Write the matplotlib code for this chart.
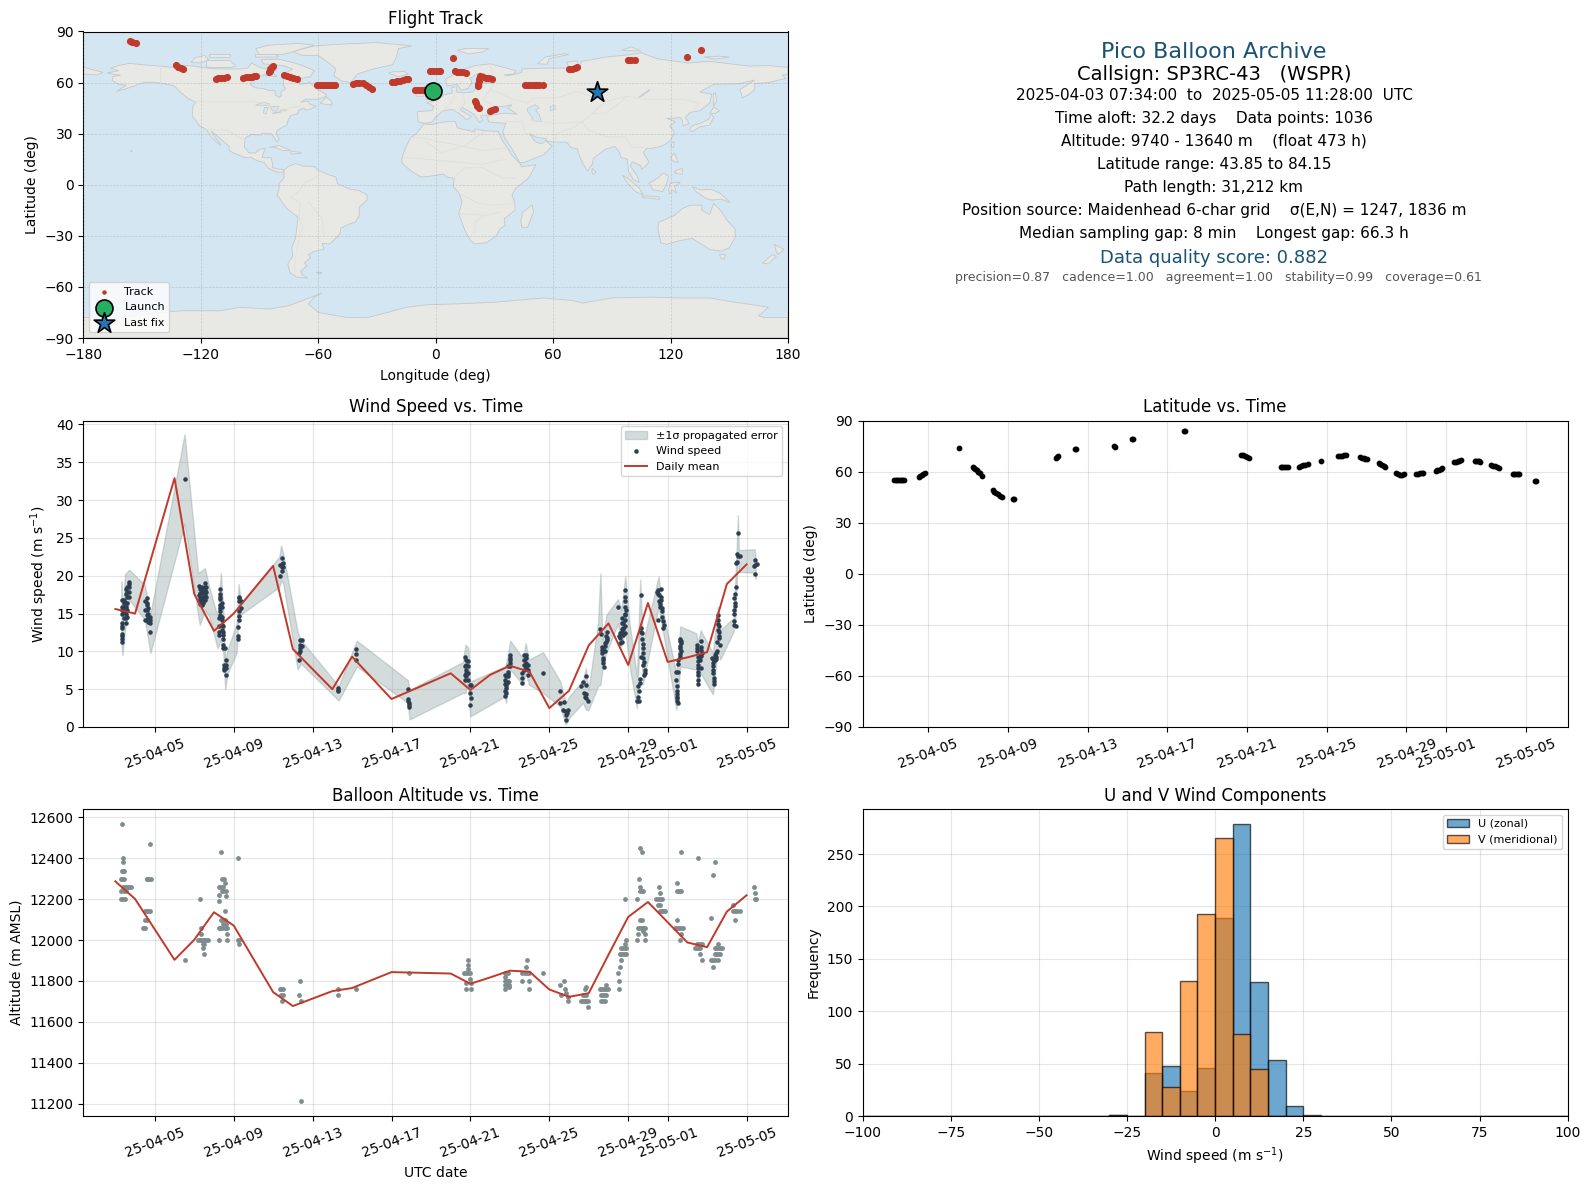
import datetime as dt
import numpy as np
import matplotlib
matplotlib.use('Agg')
import matplotlib.pyplot as plt
import matplotlib.dates as mdates

# all times are "day of April 2025" (31 = May 1)
daily_t = [3, 4, 6, 7, 8, 9, 11, 12, 14, 15, 17, 20, 21, 22, 23, 24, 25, 26, 27, 28, 29, 30, 31, 32, 33, 34, 35]
daily_wind = [15.6, 15.0, 32.9, 17.6, 12.7, 15.0, 21.3, 10.3, 5.0, 9.3, 3.7, 7.1, 4.9, 6.9, 8.1, 7.3, 2.5, 4.8,
              10.8, 13.7, 8.2, 16.4, 8.6, 9.2, 9.9, 18.9, 21.5]
daily_alt = [12287, 12201, 11903, 12001, 12136, 12071, 11745, 11677, 11750, 11765, 11843, 11836, 11786, 11817,
             11850, 11845, 11758, 11722, 11740, 11928, 12113, 12186, 12087, 11988, 11965, 12139, 12219]

wind_t = [3.32, 3.32, 3.32, 3.32, 3.32, 3.32, 3.32, 3.36, 3.36, 3.36, 3.36, 3.44, 3.44, 3.44, 3.44, 3.44,
          3.53, 3.53, 3.53, 3.53, 3.53, 3.53, 3.53, 3.61, 3.61, 3.61, 3.61, 3.61, 3.61, 3.70, 3.70, 3.70, 3.70, 3.70,
          4.49, 4.49, 4.49, 4.58, 4.58, 4.58, 4.58, 4.58, 4.58, 4.66, 4.66, 4.66, 4.66, 4.75, 4.75, 4.75, 4.78,
          6.51,
          7.22, 7.22, 7.22, 7.30, 7.30, 7.30, 7.30, 7.30, 7.39, 7.39, 7.39, 7.39, 7.39, 7.45, 7.45, 7.45, 7.45, 7.45,
          7.54, 7.54, 7.54, 7.54, 7.54, 7.61, 7.61, 7.61,
          8.33, 8.33, 8.33, 8.33, 8.33, 8.33, 8.33, 8.33, 8.40, 8.40, 8.40, 8.40, 8.40, 8.40, 8.27, 8.27, 8.27, 8.27,
          8.47, 8.47, 8.47, 8.47, 8.47, 8.47, 8.54, 8.60, 8.60, 8.60, 8.60, 8.52, 8.52, 8.52,
          9.20, 9.20, 9.20, 9.25, 9.25, 9.25, 9.25, 9.25, 9.25, 9.37, 9.37,
          11.36, 11.36, 11.43, 11.43, 11.43, 11.43, 11.51, 11.51,
          12.29, 12.29, 12.36, 12.36, 12.36, 12.36, 12.45, 12.45,
          14.31, 14.31, 14.31, 15.20, 15.20, 15.20, 17.83, 17.83, 17.83, 17.91, 17.91, 17.91,
          20.71, 20.71, 20.71, 20.71, 20.79, 20.79, 20.79, 20.79, 20.79, 20.89, 20.89, 20.89, 20.89,
          20.99, 20.99, 21.04, 21.04, 20.96,
          22.74, 22.74, 22.74, 22.74, 22.74, 22.82, 22.82, 22.82, 22.82, 22.91, 22.91, 22.91, 22.91,
          22.99, 22.99, 22.99, 22.99,
          23.63, 23.63, 23.63, 23.74, 23.74, 23.74, 23.74, 23.84, 23.84, 23.84, 23.84, 23.94, 23.94, 23.94,
          24.68,
          25.56, 25.56, 25.75, 25.70, 25.78, 25.87, 25.87, 25.97, 25.90,
          26.85, 26.71, 26.63, 26.88, 26.75, 26.80, 26.88, 26.98, 26.85,
          27.56, 27.64, 27.69, 27.69, 27.73, 27.73, 27.76, 27.81, 27.86, 27.90, 27.93, 27.73,
          28.49, 28.54, 28.57, 28.66, 28.66, 28.71, 28.74, 28.74, 28.83, 28.83, 28.86, 28.86, 28.86, 28.86, 28.91,
          29.45, 29.54, 29.51, 29.56, 29.59, 29.66, 29.66, 29.71, 29.73, 29.64, 29.76, 29.76, 29.84, 29.81,
          30.44, 30.52, 30.64, 30.57, 30.64, 30.52, 30.69, 30.69, 30.81, 30.74, 30.61,
          31.42, 31.54, 31.40, 31.45, 31.45, 31.49, 31.54, 31.54, 31.62, 31.70, 31.65, 31.70, 31.62,
          32.47, 32.47, 32.55, 32.55, 32.55, 32.55, 32.69, 32.69, 32.72, 32.64, 32.67,
          33.23, 33.31, 33.31, 33.35, 33.35, 33.45, 33.48, 33.52, 33.57, 33.62, 33.62, 33.65, 33.40,
          34.36, 34.36, 34.41, 34.38, 34.46, 34.46, 34.58, 34.46, 34.53, 34.58, 34.67, 34.50,
          35.43, 35.44, 35.55, 35.44, 35.39]
wind_v = [11.3, 11.6, 12.0, 12.3, 13.1, 13.4, 13.7, 14.9, 15.5, 15.9, 16.8, 15.3, 15.9, 16.4, 16.8, 14.4,
          13.7, 14.4, 15.0, 15.9, 16.4, 17.6, 18.3, 14.6, 15.5, 16.4, 17.2, 17.8, 18.5, 17.2, 17.8, 18.5, 18.9, 19.2,
          14.2, 15.5, 16.6, 14.2, 14.8, 15.5, 16.1, 17.0, 16.4, 13.9, 14.4, 14.9, 15.7, 13.7, 14.2, 14.6, 12.5,
          32.8,
          18.6, 17.5, 16.6, 18.3, 17.7, 17.0, 16.6, 16.3, 18.5, 17.9, 17.2, 16.7, 16.1, 18.1, 17.7, 17.0, 16.6, 16.4,
          19.0, 18.5, 18.1, 17.5, 16.8, 18.5, 17.9, 17.2,
          18.3, 17.6, 17.2, 16.9, 16.1, 15.7, 15.3, 14.8, 16.4, 15.9, 14.6, 14.2, 13.5, 12.8, 14.4, 13.3, 12.6, 12.2,
          13.3, 12.6, 12.2, 11.7, 10.9, 10.4, 10.4, 8.9, 8.2, 7.8, 6.9, 8.2, 7.8, 7.6,
          13.2, 12.0, 11.7, 17.2, 17.0, 16.6, 15.3, 14.7, 14.2, 15.7, 16.6,
          21.4, 20.0, 22.3, 21.6, 21.2, 20.6, 21.7, 21.2,
          8.9, 9.8, 11.5, 10.9, 10.5, 10.1, 11.5, 10.7,
          5.1, 4.9, 4.7, 10.3, 9.6, 8.8, 5.0, 3.7, 3.4, 3.2, 2.9, 2.6,
          9.2, 8.0, 6.9, 6.2, 8.9, 8.2, 7.6, 7.1, 6.7, 8.7, 8.0, 7.1, 6.2,
          5.6, 4.5, 3.8, 5.6, 2.9,
          6.9, 6.2, 5.7, 4.7, 4.1, 6.7, 6.0, 5.1, 4.5, 8.0, 7.3, 6.7, 6.0,
          9.5, 9.1, 8.4, 8.0,
          7.1, 6.5, 5.8, 9.5, 8.9, 8.2, 7.6, 9.5, 9.1, 8.4, 7.8, 8.2, 7.6, 6.9,
          7.2,
          4.7, 3.2, 3.3, 2.3, 2.1, 1.6, 0.9, 2.3, 1.8,
          6.8, 6.0, 5.4, 5.6, 4.5, 4.0, 3.8, 3.5, 4.3,
          13.0, 12.3, 10.6, 9.8, 9.1, 8.4, 7.9, 11.1, 12.0, 12.5, 11.5, 10.4,
          15.9, 12.0, 11.1, 11.3, 14.4, 13.7, 12.2, 13.1, 13.3, 15.0, 15.9, 16.6, 17.2, 18.1, 15.5,
          3.5, 3.4, 5.4, 4.7, 6.3, 17.4, 13.1, 11.7, 10.4, 9.3, 9.1, 8.2, 7.6, 6.9,
          17.9, 18.1, 18.2, 17.5, 16.8, 14.2, 15.3, 14.6, 13.5, 13.1, 15.9,
          7.3, 7.3, 6.2, 4.7, 4.0, 3.5, 3.2, 8.9, 9.3, 10.0, 11.7, 11.1, 10.4,
          10.9, 10.4, 9.3, 8.2, 7.3, 5.7, 11.4, 10.6, 9.8, 8.9, 7.8,
          9.1, 8.4, 7.1, 6.5, 5.7, 9.3, 10.0, 11.3, 14.2, 13.3, 12.5, 10.9, 8.9,
          13.5, 15.5, 16.4, 17.0, 13.3, 18.5, 25.6, 21.7, 21.8, 22.6, 22.6, 22.9,
          22.1, 21.4, 21.6, 20.2, 21.3]
# more readings where the passes form solid streaks
wind_t_dense = [28.66, 28.66, 28.74, 28.74, 28.83, 28.83, 28.60, 28.60, 28.86,
                29.73, 29.73, 29.71, 29.66, 29.51, 29.59, 29.78, 29.84,
                30.52, 30.57, 30.61, 30.64, 30.69, 30.74,
                31.45, 31.45, 31.49, 31.62, 31.65, 31.65, 31.70, 31.54,
                32.55, 32.55, 32.55, 32.55, 32.69, 32.69, 32.64, 32.47,
                33.31, 33.31, 33.31, 33.35, 33.35, 33.45, 33.45, 33.57, 33.57, 33.57, 33.62, 33.62, 33.40,
                34.38, 34.38, 34.41, 34.41,
                22.82, 22.91, 22.99,
                27.81, 27.81, 27.86, 27.90, 27.73, 27.69]
wind_v_dense = [12.5, 13.0, 12.9, 13.7, 14.2, 12.4, 11.8, 12.4, 14.8,
                11.0, 9.8, 12.4, 12.5, 4.0, 5.8, 8.6, 7.2,
                17.6, 16.6, 16.2, 17.2, 15.8, 14.0,
                5.4, 4.3, 3.9, 9.6, 10.7, 11.4, 11.4, 8.3,
                8.7, 7.8, 6.9, 6.2, 10.2, 9.4, 9.4, 10.0,
                7.6, 9.0, 8.0, 8.8, 6.1, 9.0, 9.8, 13.6, 12.8, 14.8, 11.8, 12.0, 9.5,
                14.0, 15.0, 16.0, 17.6,
                5.5, 7.0, 8.8,
                10.7, 10.0, 11.3, 11.8, 8.8, 10.2]

band_t = [3.31, 3.36, 3.49, 3.70, 4.49, 4.78, 6.51, 7.20, 7.28, 7.54, 7.76, 8.18, 8.35, 8.47, 8.57, 8.69, 9.15,
          9.25, 9.37, 11.31, 11.40, 11.51, 12.24, 12.41, 14.32, 15.24, 17.83, 17.91, 20.62, 20.75, 20.89, 20.99,
          22.73, 22.81, 23.02, 23.66, 23.80, 23.97, 24.68, 25.56, 25.83, 26.00, 26.71, 26.85, 26.98, 27.47, 27.59,
          27.69, 27.89, 28.48, 28.65, 28.85, 29.07, 29.44, 29.61, 29.74, 30.54, 30.76, 31.44, 31.64, 32.45, 32.53,
          32.67, 33.29, 33.54, 33.66, 34.34, 34.44, 34.56, 34.61, 35.41, 35.46]
band_hi = [19.2, 15.5, 20.2, 20.8, 18.8, 15.0, 38.7, 20.3, 20.5, 21.0, 18.5, 14.6, 20.4, 15.5, 8.9, 10.2, 13.7,
           18.9, 16.4, 22.5, 24.0, 22.9, 12.6, 11.5, 5.4, 11.4, 6.2, 4.9, 8.6, 10.9, 10.5, 6.0,
           8.0, 8.4, 11.4, 9.1, 11.1, 8.9, 9.9, 6.0, 3.2, 4.0, 6.2, 7.8, 4.9, 13.7, 20.3,
           11.5, 14.8, 16.9, 15.5, 19.9, 13.7, 6.7, 19.5, 11.1, 19.9, 15.3, 7.1, 13.3, 12.4, 11.1,
           12.8, 9.8, 15.9, 12.8, 14.4, 19.9, 28.0, 23.4, 23.5, 22.3]
band_lo = [11.1, 9.5, 12.8, 16.8, 14.2, 9.8, 26.9, 14.8, 13.5, 15.5, 14.6, 10.4, 11.5, 9.8, 5.0, 7.1, 9.8,
           15.0, 14.9, 18.5, 19.4, 19.0, 7.6, 8.4, 3.5, 8.0, 3.2, 1.0, 4.5, 4.5, 6.2, 1.4,
           4.0, 3.2, 7.6, 5.6, 7.1, 5.6, 4.5, 2.7, 0.3, 1.2, 3.2, 2.3, 2.2, 5.4, 5.6,
           7.6, 9.8, 13.7, 10.6, 12.8, 8.0, 2.5, 13.7, 5.6, 15.9, 12.6, 2.3, 8.0, 7.6, 5.4,
           7.1, 4.3, 10.2, 8.9, 12.6, 14.6, 23.2, 20.5, 20.4, 19.6]

alt_t = [3.36, 3.38, 3.40, 3.36, 3.40, 3.44, 3.30, 3.36, 3.44, 3.40, 3.48, 3.55, 3.62, 3.70, 3.78, 3.30, 3.44, 3.53, 3.27, 3.40, 3.48,
         4.78, 4.58, 4.63, 4.71, 4.80, 4.51, 4.58, 4.66, 4.75, 4.51, 4.60, 4.42, 4.51,
         6.51,
         7.27, 7.34, 7.34, 7.17, 7.27, 7.34, 7.42, 7.50, 7.59, 7.72, 7.42, 7.50, 7.45, 7.47,
         8.38, 8.40, 8.52, 8.54, 8.27, 8.35, 8.47, 8.40, 8.47, 8.60, 8.23, 8.60, 8.23, 8.54, 8.35, 8.47, 8.54, 8.47, 8.60,
         8.23, 8.33, 8.43, 8.54, 8.64, 8.64, 8.23, 8.64,
         9.20, 9.20, 9.28, 9.28,
         11.33, 11.40, 11.51, 11.40, 11.51, 11.45,
         12.34, 12.33, 12.39, 12.39,
         14.31, 14.31, 15.20, 17.88,
         20.87, 20.87, 20.87, 20.70, 20.79, 20.87, 20.96, 20.96, 20.79, 21.04, 20.79, 21.04,
         22.73, 22.81, 22.90, 22.73, 22.73, 22.81, 22.90, 22.98, 22.73, 22.81, 22.90, 22.98, 22.73, 22.98,
         23.87, 23.80, 23.63, 23.75, 23.87, 23.97, 23.63, 23.97, 23.97,
         24.68,
         25.75, 25.56, 25.78, 25.87, 25.60, 25.95, 25.95,
         26.88, 26.79, 26.71, 26.79, 26.88, 26.62, 26.71, 26.79, 26.88, 26.96, 26.96,
         27.89, 27.56, 27.64, 27.72, 27.81, 27.89, 27.97, 27.64, 27.72, 27.81, 27.89, 27.64, 27.72, 27.81,
         28.82, 28.54, 28.54, 28.50, 28.57, 28.65, 28.57, 28.65, 28.74, 28.82, 28.91, 28.65, 28.74, 28.82, 28.91, 28.82, 28.87,
         29.62, 29.69, 29.55, 29.62, 29.62, 29.69, 29.76, 29.45, 29.62, 29.69, 29.51, 29.62, 29.69, 29.76, 29.84, 29.76, 29.84, 29.51, 29.45, 29.84,
         30.57, 30.60, 30.43, 30.52, 30.60, 30.69, 30.52, 30.60, 30.60, 30.69, 30.77, 30.86,
         31.48, 31.48, 31.58, 31.70, 31.48, 31.36, 31.48, 31.58, 31.70, 31.79, 31.70, 31.65,
         31.70, 32.55, 32.47, 32.55, 32.63, 32.72, 32.41, 32.47, 32.55, 32.63, 32.63, 32.72,
         33.41, 33.31, 33.22, 33.56, 33.40, 33.47, 33.56, 33.64, 33.73, 33.47, 33.40, 33.56, 33.64, 33.22, 33.31, 33.40, 33.56, 33.31,
         34.32, 34.32, 34.42, 34.52, 34.66, 34.42,
         35.39, 35.44, 35.48, 35.44]
alt_m = [12570, 12400, 12380, 12340, 12340, 12340, 12300, 12300, 12300, 12260, 12260, 12260, 12260, 12260, 12260, 12240, 12240, 12240, 12200, 12200, 12200,
         12470, 12300, 12300, 12300, 12300, 12140, 12140, 12140, 12140, 12100, 12100, 12060, 12060,
         11900,
         12200, 12060, 12030, 12000, 12000, 12000, 12000, 12000, 12000, 12000, 11980, 11980, 11960, 11930,
         12430, 12300, 12300, 12280, 12260, 12260, 12260, 12240, 12240, 12240, 12220, 12215, 12190, 12140, 12100, 12100, 12100, 12080, 12080,
         12060, 12060, 12060, 12060, 12060, 12030, 12000, 12000,
         12400, 12000, 12000, 11980,
         11760, 11760, 11760, 11730, 11730, 11700,
         11800, 11730, 11700, 11210,
         11760, 11730, 11760, 11840,
         11900, 11880, 11860, 11840, 11840, 11840, 11840, 11810, 11790, 11790, 11760, 11760,
         11840, 11840, 11840, 11820, 11800, 11800, 11800, 11800, 11780, 11780, 11780, 11780, 11760, 11770,
         11900, 11870, 11840, 11840, 11840, 11840, 11800, 11800, 11760,
         11840,
         11800, 11780, 11760, 11740, 11730, 11720, 11700,
         11770, 11760, 11730, 11730, 11730, 11700, 11700, 11700, 11700, 11700, 11670,
         11780, 11760, 11760, 11760, 11760, 11760, 11760, 11730, 11730, 11730, 11730, 11700, 11700, 11700,
         12200, 11760, 11800, 11840, 11870, 11900, 11930, 11930, 11930, 11930, 11930, 11960, 11960, 11960, 11960, 11980, 12000,
         12450, 12430, 12300, 12260, 12240, 12240, 12240, 12200, 12100, 12100, 12060, 12060, 12060, 12060, 12060, 12045, 12030, 12030, 12000, 12000,
         12260, 12230, 12200, 12200, 12200, 12200, 12170, 12170, 12140, 12140, 12140, 12140,
         12280, 12240, 12240, 12240, 12100, 12060, 12060, 12060, 12060, 12060, 12030, 12000,
         12430, 12400, 11980, 11980, 11980, 11980, 11960, 11960, 11960, 11960, 11930, 11900,
         12380, 12320, 12110, 11980, 11960, 11960, 11960, 11960, 11960, 11930, 11930, 11930, 11930, 11900, 11900, 11900, 11900, 11870,
         12170, 12140, 12140, 12140, 12140, 12100,
         12260, 12230, 12200, 12200]

lat_t = [3.30, 3.38, 3.46, 3.54, 3.62, 3.70, 3.81, 4.53, 4.60, 4.68, 4.76, 4.84, 6.57,
         7.24, 7.30, 7.36, 7.43, 7.50, 7.58, 7.69, 8.25, 8.33, 8.41, 8.50, 8.60, 8.70, 9.28, 9.32,
         11.43, 11.48, 11.54, 12.37, 12.41, 14.33, 14.36, 15.22, 15.26, 17.86, 17.90,
         20.72, 20.80, 20.90, 21.00, 21.10, 22.69, 22.78, 22.88, 22.97, 23.07, 23.63, 23.73, 23.83, 23.93, 24.04,
         24.69, 25.54, 25.65, 25.77, 25.88, 25.99, 26.66, 26.75, 26.85, 26.93, 27.00,
         27.60, 27.68, 27.76, 27.85, 27.93, 28.49, 28.60, 28.70, 28.80, 28.90, 29.46, 29.56, 29.66, 29.76, 29.84,
         30.46, 30.55, 30.63, 30.72, 30.80, 31.41, 31.50, 31.58, 31.66, 31.74, 32.43, 32.50, 32.57, 32.64, 32.70,
         33.26, 33.36, 33.46, 33.55, 33.64, 34.34, 34.42, 34.50, 34.58, 34.65, 35.44, 35.48]
lat_v = [55.0, 55.0, 55.2, 55.3, 55.3, 55.4, 55.4, 56.9, 57.6, 58.2, 58.9, 59.5, 73.8,
         63.0, 62.4, 61.6, 60.8, 59.9, 59.0, 57.7, 49.0, 48.2, 47.5, 46.8, 46.0, 45.2, 44.1, 43.9,
         68.0, 68.8, 69.5, 73.4, 73.2, 75.0, 74.6, 79.2, 79.0, 84.1, 83.9,
         70.1, 69.6, 69.0, 68.5, 68.0, 63.0, 63.0, 63.0, 63.0, 63.0, 63.0, 63.3, 63.7, 64.0, 64.3,
         66.4, 69.4, 69.5, 69.5, 69.6, 69.7, 68.6, 68.3, 68.0, 67.7, 67.4,
         65.0, 64.4, 63.9, 63.3, 62.7, 59.0, 58.6, 58.3, 58.2, 58.4, 58.8, 58.9, 59.0, 59.2, 59.4,
         60.4, 60.9, 61.3, 61.8, 62.3, 65.6, 65.9, 66.3, 66.6, 67.0, 66.6, 66.5, 66.4, 66.2, 66.0,
         64.0, 63.6, 63.2, 62.8, 62.3, 58.6, 58.6, 58.6, 58.6, 58.6, 54.7, 54.3]

track_lon = [-156.2, -155.0, -153.3, -132.8, -131.5, -130.2, -129.2,
             -112.2, -111.0, -109.5, -108.0, -106.8, -98.6, -97.0, -95.5, -94.0, -92.8, -91.8,
             -85.0, -84.8, -84.5, -84.0, -83.5, -83.0, -77.5, -76.0, -74.5, -73.0, -71.0,
             -60.5, -59.0, -57.5, -56.0, -54.5, -53.0, -51.5, -42.1, -40.5, -39.0, -37.0, -35.5, -34.0, -32.7,
             -22.5, -21.0, -19.5, -18.0, -16.5, -15.0, -14.0, -10.6, -9.0, -7.5, -6.0, -4.7,
             -3.0, -1.5, 0.0, 1.0, 2.1, 8.9, 9.8, 11.0, 12.5, 14.0, 15.4,
             21.4, 21.6, 21.9, 22.2, 22.6, 24.0, 25.5, 27.0, 29.0, 20.0, 20.6, 21.2, 22.0, 27.7, 29.0, 30.2,
             45.5, 47.0, 48.5, 50.0, 51.5, 53.0, 54.6, 68.2, 69.5, 71.0, 72.3, 98.3, 100.0, 101.7, 128.4, 135.7]
track_lat = [84.2, 83.8, 83.4, 70.1, 69.4, 68.8, 68.2,
             62.3, 62.5, 62.7, 62.9, 63.1, 62.9, 63.1, 63.3, 63.5, 63.7, 63.9,
             66.0, 67.0, 68.0, 68.7, 69.4, 70.0, 64.6, 64.0, 63.4, 62.8, 62.1,
             58.4, 58.4, 58.4, 58.4, 58.4, 58.4, 58.4, 59.2, 59.5, 59.8, 59.6, 58.6, 57.5, 56.4,
             60.1, 60.5, 60.9, 61.2, 61.5, 61.9, 62.1, 55.4, 55.4, 55.4, 55.4, 55.4,
             66.6, 66.6, 66.6, 66.6, 66.6, 74.4, 66.6, 66.5, 66.3, 66.0, 65.8,
             57.8, 59.3, 60.8, 62.3, 63.7, 63.1, 62.9, 62.7, 62.3, 49.0, 47.8, 46.5, 45.1, 43.5, 44.0, 44.5,
             58.4, 58.4, 58.4, 58.4, 58.4, 58.4, 58.4, 67.8, 68.2, 68.6, 69.0, 73.1, 73.1, 73.1, 74.8, 79.1]
launch_lonlat = (-1.6, 54.9)
last_lonlat = (82.5, 54.5)

hist_edges = list(range(-100, 105, 5))
u_counts = [0] * 14 + [1, 0, 41, 48, 24, 46, 189, 279, 128, 53, 10, 1] + [0] * 14
v_counts = [0] * 14 + [1, 0, 80, 28, 129, 193, 265, 78, 45, 0, 0, 0] + [0] * 14

info_lines = ["Pico Balloon Archive",
              "Callsign: SP3RC-43   (WSPR)",
              "2025-04-03 07:34:00  to  2025-05-05 11:28:00  UTC",
              "Time aloft: 32.2 days    Data points: 1036",
              "Altitude: 9740 - 13640 m    (float 473 h)",
              "Latitude range: 43.85 to 84.15",
              "Path length: 31,212 km",
              "Position source: Maidenhead 6-char grid    \u03c3(E,N) = 1247, 1836 m",
              "Median sampling gap: 8 min    Longest gap: 66.3 h",
              "Data quality score: 0.882",
              "precision=0.87   cadence=1.00   agreement=1.00   stability=0.99   coverage=0.61"]

# rough coastlines, lon/lat
north_america = [(-168, 65.6), (-164, 66.5), (-162, 67), (-166, 68.4), (-162, 70), (-156.5, 71.3), (-150, 70.5), (-141, 69.7),
                 (-135, 69), (-128, 70), (-124, 69.8), (-115, 68.2), (-108, 68), (-100, 68), (-96, 68.5), (-94, 71.5), (-90, 69),
                 (-87, 68), (-85, 69.5), (-82, 69), (-81.5, 67), (-87, 65), (-90, 63.5), (-94, 61), (-94.5, 58.8), (-92.5, 57),
                 (-88, 56.5), (-85, 55.3), (-82, 55.2), (-82, 52.8), (-80, 51.3), (-79, 52), (-79, 54.5), (-76.7, 56.5), (-78, 58.7),
                 (-77.5, 62.4), (-73, 62), (-70, 61), (-69.5, 59), (-65.5, 59.5), (-64.5, 60.3), (-61, 56.5), (-56, 53), (-55.8, 52),
                 (-60, 50.2), (-66.5, 50.2), (-69, 48.5), (-65, 49), (-64.5, 47.5), (-61, 46), (-64, 44.5), (-66.5, 43.8), (-67, 45),
                 (-70, 43.7), (-70.5, 41.7), (-74, 40.6), (-75.5, 37.5), (-76, 35), (-78, 33.9), (-81, 32), (-81.3, 30), (-80, 26.8),
                 (-81, 25.2), (-82.7, 28), (-84, 30), (-88, 30.3), (-90, 29.2), (-94, 29.6), (-97.3, 27.5), (-97.7, 22.5), (-95.5, 18.8),
                 (-92, 18.6), (-90.5, 20.5), (-87, 21.5), (-88, 18.5), (-88.8, 16), (-84, 15.8), (-83.3, 12), (-83.5, 10), (-80, 9.2),
                 (-77.5, 8.7), (-78, 7.3), (-80.5, 7.3), (-83, 8.3), (-85.7, 10), (-87.5, 13), (-91, 14), (-94.5, 16.2), (-97, 15.8),
                 (-102, 18), (-105.5, 20), (-105.5, 22.5), (-109, 26), (-112.5, 29.5), (-114.7, 31.5), (-112.5, 27.5), (-109.5, 23),
                 (-112, 25), (-115, 28.5), (-117, 32.5), (-120.5, 34.5), (-122.5, 37.5), (-124.3, 40.3), (-124, 46), (-122.7, 48.5),
                 (-127, 51), (-130.5, 54.5), (-133.5, 58), (-138, 59.2), (-144, 60.2), (-148.5, 60.2), (-152, 59), (-154, 58),
                 (-158, 56.5), (-163, 54.8), (-158, 58.5), (-162, 59), (-165, 61), (-165, 63.5), (-161, 64.3)]
south_america = [(-77.5, 8.7), (-75, 11), (-71.5, 12.4), (-68, 11), (-62, 10.7), (-60, 8.5), (-55, 6), (-51, 4.5), (-50, 0.5), (-44, -2.5),
                 (-39, -3.5), (-35, -6), (-35, -9), (-39, -13), (-39, -18), (-41, -22), (-44.5, -23.2), (-48.5, -25.5), (-48.7, -28.5),
                 (-52, -32.5), (-54, -34.8), (-58, -34.5), (-57, -38), (-62, -39), (-65, -41), (-63.8, -42.5), (-67, -46), (-65.8, -47.5),
                 (-69, -51), (-68.3, -52.7), (-65.5, -54.8), (-71, -54.3), (-74.5, -51.5), (-75.5, -46.5), (-73, -42), (-73.5, -37),
                 (-71.5, -31), (-70.3, -19), (-76, -14), (-81, -6), (-80, -2.5), (-80, 0.8), (-77.5, 4), (-77.5, 7)]
africa = [(-6, 35.8), (-2, 35.2), (3, 36.8), (10, 37.2), (11, 33.5), (15, 32.3), (20, 31), (20, 32.8), (25, 31.7), (32, 31.2), (32.5, 30),
          (34, 26), (37, 21), (38.5, 18), (43, 12.5), (44, 10.5), (51.2, 11.8), (47.5, 4), (41, -2), (39, -6), (40.5, -11), (40.5, -15),
          (35, -20), (35.5, -24), (32.8, -26), (31, -30), (26, -34), (20, -34.8), (18, -33), (15, -27), (11.8, -17), (13.5, -10), (12, -5),
          (9, -1), (9.5, 3.8), (5.5, 4.5), (4, 6.3), (-3, 5), (-7.5, 4.5), (-13, 8.5), (-17, 12.5), (-17.3, 15), (-16, 20), (-13, 27.5), (-9.8, 30)]
eurasia = [(-5.5, 36), (-9, 37), (-9.3, 43), (-1.8, 43.5), (-1, 46), (-4.7, 48.3), (-1.5, 48.8), (2, 51), (4.5, 53), (8.5, 53.8), (8.2, 57),
           (10.7, 57.6), (10.5, 54.5), (14, 54), (19, 54.5), (21, 57), (24, 58), (23.5, 59.5), (30, 60), (23, 60), (21.5, 63), (25, 65.5),
           (22, 65.5), (17.5, 62.5), (18.5, 60), (16.5, 56.5), (13, 55.5), (11, 59), (6, 58), (5, 62), (13, 67), (20, 70), (28, 71), (41, 67),
           (40, 65), (35, 64.5), (37, 64), (44, 66), (44, 68), (54, 68.5), (68, 68.5), (67, 72), (72.5, 72.7), (73, 68), (74.5, 72.5), (80, 73.5),
           (87, 75), (100, 76.5), (105, 77.5), (113, 74), (129, 71.5), (140, 72.5), (160, 69.7), (170, 70), (180, 69), (180, 65), (177, 64.5),
           (179, 62.5), (170, 60), (163, 59.5), (163, 56), (160, 53), (156.7, 51), (155.5, 56), (163, 61.5), (155, 59.3), (142, 59), (135, 54.5),
           (141, 53), (140, 48), (135, 43.5), (130, 42.5), (127.5, 39.5), (129.5, 36), (126.5, 34.5), (126, 37.5), (125, 39.5), (121, 39), (118, 39),
           (122.5, 37), (119.5, 34.5), (122, 31), (120, 26), (116, 22.8), (110, 21.3), (108, 21.5), (106, 19), (109, 13.5), (107, 10.5), (105, 9),
           (105, 11), (100.5, 13.5), (99.5, 11), (103, 5), (104, 1.5), (101, 3), (98.5, 8), (98, 15), (94.5, 16), (94, 19), (91.5, 22.5), (87, 21),
           (80.5, 15.5), (80, 12), (77.5, 8), (74.5, 14), (72.8, 19), (72.5, 21), (69, 22), (67, 25), (61.5, 25), (57, 25.5), (56.5, 27), (51, 28),
           (48, 30), (50, 26.5), (51.5, 25), (54, 24), (56.3, 26), (59.5, 22.5), (55, 17.5), (45, 13), (43, 13), (39, 21), (35, 28), (34.3, 31.2),
           (35.8, 36), (30.5, 36.5), (27, 37), (26.5, 40), (29, 41), (35, 42), (41.5, 41.5), (37, 45), (39, 47), (35, 46), (33, 46), (30.5, 46),
           (28, 42), (26, 40.8), (23, 40.5), (24, 38), (22.5, 36.5), (19.5, 41.5), (13.5, 45.5), (12.5, 44), (18.3, 40), (16, 38), (12.5, 41.5),
           (8.5, 44.3), (3.5, 43.3), (0, 39.5), (-2, 36.8)]
australia = [(114, -22), (122, -18), (126, -14), (130, -12), (136, -12), (136, -15), (140, -17.5), (142, -11), (145.5, -15), (149, -21),
             (153, -26), (153, -31), (150, -37), (146, -39), (140, -38), (136, -35), (131, -31.5), (124, -33), (118, -35), (115, -34), (113.5, -26)]
antarctica = [(-180, -78), (-160, -78), (-150, -76), (-130, -74), (-110, -74), (-100, -72), (-85, -73), (-75, -71), (-68, -68), (-58, -63.5),
              (-62, -66), (-65, -70), (-60, -75), (-45, -78), (-35, -78), (-28, -76), (-15, -72), (-5, -70.5), (10, -70), (30, -69), (40, -68),
              (55, -66.5), (70, -68), (75, -69.5), (90, -66.5), (110, -66), (125, -66.5), (140, -66.5), (150, -68.5), (165, -71), (170, -72),
              (165, -77), (168, -78), (180, -78), (180, -90), (-180, -90)]
greenland = [(-73, 78.3), (-68, 76), (-60, 76), (-54, 71), (-51, 68), (-52, 64), (-48, 61), (-43.5, 60), (-40, 65), (-32, 68), (-22, 70.5),
             (-20, 75), (-19, 80), (-12, 81.5), (-30, 83.5), (-50, 82.5), (-62, 81.5)]
islands = [[(-80, 73.7), (-72, 71.5), (-68, 70), (-62, 67), (-64, 63.5), (-68, 62.5), (-73, 64.5), (-78, 65), (-73, 68), (-78, 70), (-88, 71), (-89, 73.5)],
           [(-117, 69), (-105, 68.8), (-102, 69.8), (-105, 73), (-117, 73)],
           [(-125, 72), (-120, 71.5), (-116, 73.5), (-118, 76), (-123, 74.5)],
           [(-90, 76.5), (-78, 76.5), (-72, 78.5), (-62, 82), (-70, 83), (-85, 82), (-92, 80)],
           [(-92, 75), (-80, 75), (-82, 76.5), (-92, 76.5)],
           [(-116, 75), (-105, 75), (-105, 76.5), (-116, 76.5)],
           [(-59, 47.7), (-53, 46.8), (-53, 49), (-56, 51.5)],
           [(-87, 64), (-81, 63.5), (-83, 65.5)],
           [(-180, 69), (-170, 66), (-173, 64.5), (-180, 65)],
           [(-5, 50), (1, 51), (0, 53.5), (-2, 56), (-3, 58.5), (-6, 57.5), (-3, 54), (-5, 52)],
           [(-10, 52), (-6, 52), (-6, 55), (-10, 54)],
           [(-24, 65.5), (-19, 63.5), (-14, 65), (-16, 66.5), (-22, 66.3)],
           [(11, 79), (17, 76.8), (24, 78), (27, 80), (15, 80)],
           [(52, 71), (57, 70.8), (58, 74), (68, 76.5), (66, 77), (56, 75)],
           [(95, 79), (105, 78.5), (100, 81)],
           [(137, 75), (145, 75.5), (150, 75), (143, 73.8)],
           [(142, 46), (143.5, 49), (143, 54), (142, 53.5), (142, 48)],
           [(130, 31.5), (131.5, 31.5), (135, 34), (140, 35), (142, 39.5), (141, 41.5), (139.5, 38.5), (136, 36.5), (132, 35), (130, 33.5)],
           [(140, 42), (143, 42), (145, 43.5), (142, 45.5)],
           [(120, 22), (121.5, 22), (122, 25), (121, 25)],
           [(120, 16), (122, 18.5), (124, 13), (121, 14)],
           [(122, 7), (126, 6), (126, 9.5), (123, 8.5)],
           [(109, 1), (111, -3), (116, -4), (118, 1), (119, 5), (116.5, 7), (113, 3.5)],
           [(95.5, 5.5), (98, 4), (104, -2), (106, -6), (102, -4), (98, 1)],
           [(105.5, -6.5), (114, -7), (114.5, -8.5), (106, -7.5)],
           [(119.5, -5.5), (121, -3), (123, -5), (122, -1), (125, 1.5), (120, 1), (119, -3)],
           [(131, -1), (135, -3), (141, -2.7), (146, -5.5), (150.5, -10.5), (146, -8.5), (141, -9), (138, -8), (133, -4)],
           [(80, 9.5), (82, 7.5), (80.5, 6), (79.8, 7.5)],
           [(49.3, -12), (50, -16), (47, -25), (44, -25), (43.5, -21), (44.5, -16)],
           [(-85, 22), (-80, 23), (-74, 20.2), (-78, 20), (-82, 22)],
           [(-74, 19.8), (-69, 19), (-68.5, 18.5), (-74, 18)],
           [(145, -41), (148, -41), (147.5, -43.5), (146, -43.5)],
           [(173, -35), (178, -38), (175, -41), (174, -39)],
           [(172, -41), (174, -42), (170, -46.5), (167, -46)],
           [(-61, -51.5), (-58, -51.5), (-59, -52.3)],
           [(-156, 20), (-155, 19.3), (-155.5, 20.2)]]
lakes = [[(47, 45), (51, 47), (53, 45), (51, 44), (53, 41), (54, 37), (50, 37.5), (49, 40), (47, 43)],
         [(58.5, 46), (61, 46.5), (61, 44), (58.5, 43.5)],
         [(-92, 46.7), (-88, 48.5), (-85, 47.5), (-85, 46.6), (-88, 46.7)],
         [(-88, 42), (-86.5, 41.8), (-85.5, 45.5), (-87.5, 45.5)],
         [(-84.5, 46), (-80, 45.8), (-81.5, 43.2), (-83.5, 43.5)],
         [(-83.3, 41.6), (-79, 42.7), (-79, 43), (-83, 42.2)],
         [(-79.5, 43.3), (-76.3, 43.5), (-76.3, 44.2), (-79.5, 43.8)],
         [(103.7, 51.5), (105, 51.8), (109.5, 55.5), (109, 55.7)]]
borders = [[(-141, 60), (-141, 69.7)], [(-123, 49), (-95, 49), (-88, 48), (-83, 45), (-79, 43), (-75, 45), (-70, 46), (-67, 45)],
           [(-117, 32.5), (-106, 31.7), (-97.3, 26)], [(-70, -18), (-69, -11), (-74, -7), (-70, -4), (-67, 1), (-60, 5)],
           [(-57, -30), (-58, -20), (-65, -10)], [(-70, -18), (-68, -25), (-70, -33), (-72, -45), (-72, -52)],
           [(-13, 27.7), (-8, 27.7), (12, 23), (25, 20), (37, 22)], [(-5, 25), (3, 19), (15, 23), (25, 31.5)], [(-16, 16), (15, 13), (24, 12), (36, 15)],
           [(9, 4), (15, 10), (24, 10), (34, 4), (41, 4)], [(12, -5), (22, -11), (30, -12), (40, -11)], [(12, -17), (25, -18), (33, -16)],
           [(20, -29), (20, -22), (25, -18)], [(28, 56), (40, 50), (47, 48), (50, 51), (62, 51), (72, 55), (87, 49), (98, 52), (107, 50), (118, 50), (127, 50), (135, 48), (131, 43)],
           [(48, 38), (62, 36), (75, 37), (80, 42), (87, 49)], [(75, 37), (78, 32), (88, 28), (97, 28), (100, 22), (106, 22)],
           [(35, 37), (44, 37), (46, 30), (48, 30)], [(61, 25), (62, 30), (71, 34), (75, 37)], [(28, 70), (30, 60), (28, 56), (24, 50), (30, 46)],
           [(3, 43), (8, 48), (10, 54)], [(14, 54), (15, 48), (13.5, 45.5)], [(98, 52), (87, 42), (80, 42)]]

RED = '#c0392b'
NAVY = '#2c3e50'
GREY = '#7f8c8d'
W, H = 1589, 1189


def make_axes(x0, y0, x1, y1):
    return fig.add_axes([x0 / W, 1 - y1 / H, (x1 - x0) / W, (y1 - y0) / H])


def to_dates(days):
    # day of April -> matplotlib date number
    return mdates.date2num(dt.datetime(2025, 4, 1)) + np.asarray(days, dtype=float) - 1


def date_axis(ax, left, right):
    ax.set_xlim(to_dates(left), to_dates(right))
    ax.xaxis.set_major_locator(mdates.DayLocator(bymonthday=[1, 5, 9, 13, 17, 21, 25, 29]))
    ax.xaxis.set_major_formatter(mdates.DateFormatter('%y-%m-%d'))
    ax.tick_params(axis='x', labelrotation=20)
    ax.grid(True, color='gray', alpha=0.2)
    ax.set_axisbelow(True)


fig = plt.figure(figsize=(W / 100, H / 100), dpi=100)

# flight track map
ax_map = make_axes(83.3, 31.5, 788, 338)
ax_map.set_facecolor('#d4e6f1')
shapes = [north_america, south_america, africa, eurasia, australia, antarctica, greenland] + islands
for shape in shapes:
    xs, ys = zip(*shape)
    ax_map.fill(xs, ys, facecolor='#e8e8e4', edgecolor='#c3c9cb', linewidth=0.6, zorder=1)
for shape in lakes:
    xs, ys = zip(*shape)
    ax_map.fill(xs, ys, facecolor='#d4e6f1', edgecolor='#c3c9cb', linewidth=0.5, zorder=1.1)
for line in borders:
    xs, ys = zip(*line)
    ax_map.plot(xs, ys, color='#dfe0dc', linewidth=0.6, zorder=1.2)
ax_map.scatter(track_lon, track_lat, s=17, color=RED, zorder=3)
ax_map.scatter(track_lon, track_lat, s=5, color=RED, label='Track', zorder=3)
ax_map.scatter(*launch_lonlat, s=150, color='#27ae60', edgecolor='black', linewidth=1.2, label='Launch', zorder=4)
ax_map.scatter(*last_lonlat, s=240, marker='*', color='#1f77b4', edgecolor='black', linewidth=1.2, label='Last fix', zorder=4)
ax_map.set_xlim(-180, 180)
ax_map.set_ylim(-90, 90)
ax_map.set_xticks(np.arange(-180, 181, 60))
ax_map.set_yticks(np.arange(-90, 91, 30))
ax_map.grid(True, color='gray', alpha=0.3, linestyle='--', linewidth=0.5, zorder=2)
ax_map.set_axisbelow(False)
ax_map.set_title('Flight Track', fontsize=12, pad=5.3)
ax_map.set_xlabel('Longitude (deg)', labelpad=5.5)
ax_map.set_ylabel('Latitude (deg)')
ax_map.legend(loc='lower left', fontsize=8)

# summary text
ax_txt = make_axes(862.5, 31.5, 1567.7, 338)
ax_txt.axis('off')
text_x = [1214, 1214, 1214, 1214, 1214, 1214, 1214, 1214, 1214, 1214, 1218]
text_y = [51.8, 74.6, 95.3, 118.8, 141.2, 164.5, 187.6, 210.2, 233.2, 257.8, 278]
text_size = [16, 14, 11, 11, 11, 11, 11, 11, 11, 13, 9]
text_color = ['#1a5276', 'black', 'black', 'black', 'black', 'black', 'black', 'black', 'black', '#1a5276', '#555555']
for line, x, y, size, col in zip(info_lines, text_x, text_y, text_size, text_color):
    fig.text(x / W, 1 - y / H, line, ha='center', va='center', fontsize=size, color=col)

# wind speed
ax_wind = make_axes(83.3, 420.7, 788, 727)
ax_wind.fill_between(to_dates(band_t), band_lo, band_hi, color='#95a5a6', alpha=0.4, label='\u00b11\u03c3 propagated error')
ax_wind.scatter(to_dates(wind_t + wind_t_dense), wind_v + wind_v_dense, s=5, color=NAVY, label='Wind speed', zorder=3)
ax_wind.plot(to_dates(daily_t), daily_wind, color=RED, linewidth=1.4, label='Daily mean', zorder=4)
date_axis(ax_wind, 1.376, 37.10)
ax_wind.set_ylim(0, 40.5)
ax_wind.set_title('Wind Speed vs. Time', fontsize=12)
ax_wind.set_ylabel('Wind speed (m s$^{-1}$)')
ax_wind.legend(loc='upper right', fontsize=8)

# latitude
ax_lat = make_axes(862.5, 420.7, 1567.7, 727)
ax_lat.scatter(to_dates(lat_t), lat_v, s=10, color='black')
date_axis(ax_lat, 1.707, 37.09)
ax_lat.set_ylim(-90, 90)
ax_lat.set_yticks(np.arange(-90, 91, 30))
ax_lat.set_title('Latitude vs. Time', fontsize=12)
ax_lat.set_ylabel('Latitude (deg)')

# altitude
ax_alt = make_axes(83.3, 809, 788, 1116)
ax_alt.scatter(to_dates(alt_t), alt_m, s=6, color=GREY, zorder=3)
ax_alt.plot(to_dates(daily_t), daily_alt, color=RED, linewidth=1.4, zorder=4)
date_axis(ax_alt, 1.376, 37.10)
ax_alt.set_ylim(11139, 12641)
ax_alt.set_title('Balloon Altitude vs. Time', fontsize=12)
ax_alt.set_xlabel('UTC date')
ax_alt.set_ylabel('Altitude (m AMSL)')

# wind components
ax_hist = make_axes(862.5, 809, 1567.7, 1116)
ax_hist.bar(hist_edges[:-1], u_counts, width=5, align='edge', color='C0', alpha=0.65, edgecolor='black', linewidth=1, label='U (zonal)')
ax_hist.bar(hist_edges[:-1], v_counts, width=5, align='edge', color='C1', alpha=0.65, edgecolor='black', linewidth=1, label='V (meridional)')
ax_hist.set_xlim(-100, 100)
ax_hist.set_ylim(0, 293)
ax_hist.grid(True, color='gray', alpha=0.2)
ax_hist.set_axisbelow(True)
ax_hist.set_title('U and V Wind Components', fontsize=12)
ax_hist.set_xlabel('Wind speed (m s$^{-1}$)')
ax_hist.set_ylabel('Frequency')
ax_hist.legend(loc='upper right', fontsize=8)

fig.savefig('out.png', dpi=100)
